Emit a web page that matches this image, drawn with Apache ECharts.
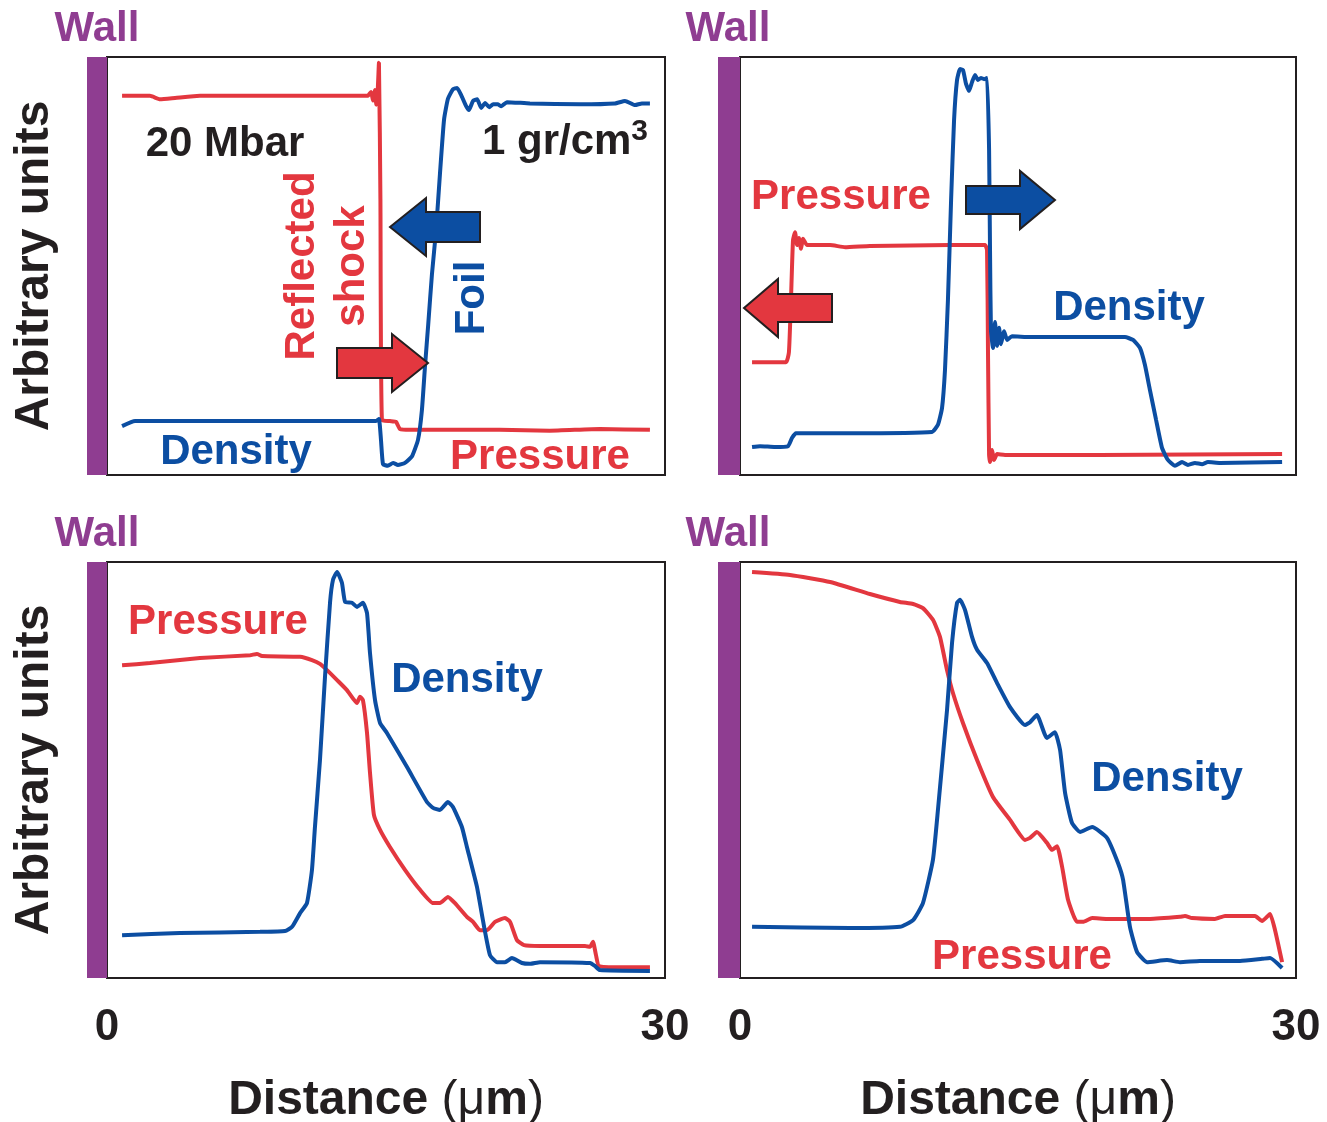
<!DOCTYPE html>
<html>
<head>
<meta charset="utf-8">
<script src="https://cdn.jsdelivr.net/npm/echarts@6/dist/echarts.min.js"></script>
<style>html,body{margin:0;padding:0;background:#fff;}#chart{width:1327px;height:1122px;}</style>
</head>
<body>
<div id="chart"></div>
<script>
// ---------- data (x in µm, y in arbitrary units 0-100) ----------
const xTickLabels = ['0', '30'];
const xRange = [0, 30];

const tlPressure = [[0.81,90.7],[2.31,90.7],[2.85,89.9],[3.66,90.2],[5.0,90.7],[10.38,90.7],[14.0,90.7],[14.2,91.6],[14.3,89.6],[14.4,92.1],[14.48,88.6],[14.55,91.5],[14.62,98.6],[14.7,66],[14.78,13.2],[15.21,12.9],[15.54,12.7],[15.75,11.0],[16.29,10.8],[21.1,10.8],[23.8,10.6],[26.5,11.0],[29.19,10.8]];
const tlDensity = [[0.81,11.7],[1.51,12.9],[5.0,12.9],[10.4,12.9],[14.46,12.9],[14.62,13.4],[14.73,8.4],[14.84,2.6],[15.1,2.2],[15.38,2.9],[15.64,2.4],[16.02,2.9],[16.4,4.5],[16.72,8.4],[16.93,15.5],[17.1,26.2],[17.27,36.0],[17.47,48.0],[17.69,58.5],[17.9,72.0],[18.12,85.0],[18.33,90.0],[18.6,92.3],[18.82,92.6],[19.03,91.0],[19.3,88.3],[19.46,87.3],[19.68,89.5],[19.9,89.9],[20.12,87.8],[20.33,89.0],[20.55,88.0],[20.76,88.7],[21.0,88.7],[21.2,88.2],[21.5,89.2],[22.74,88.9],[25.43,88.7],[27.31,88.9],[27.85,89.5],[28.39,88.5],[28.76,88.9],[29.19,88.9]];

const trPressure = [[0.65,27.0],[2.48,27.0],[2.64,29.4],[2.75,41.9],[2.86,56.2],[2.97,58.1],[3.08,55.0],[3.18,56.7],[3.29,54.1],[3.40,56.5],[3.62,55.0],[4.86,55.0],[5.67,54.5],[7.01,54.8],[11.33,55.0],[13.22,55.0],[13.33,53.8],[13.38,29.9],[13.44,4.8],[13.49,3.1],[13.6,6.0],[13.71,3.6],[13.87,5.0],[14.3,4.8],[19.43,4.8],[29.25,5.0]];
const trDensity = [[0.65,6.7],[1.08,6.9],[1.89,6.7],[2.59,6.9],[2.81,8.9],[3.02,10.0],[5.94,10.0],[10.36,10.3],[10.68,12.0],[10.9,16.0],[11.06,25.1],[11.22,41.9],[11.39,65.8],[11.55,84.9],[11.71,94.5],[11.87,97.1],[12.03,96.9],[12.2,93.5],[12.36,91.9],[12.52,94.0],[12.68,95.7],[12.84,94.5],[13.0,95.0],[13.17,94.7],[13.33,95.0],[13.44,77.7],[13.49,53.8],[13.54,34.7],[13.65,30.4],[13.76,36.6],[13.87,30.9],[13.98,35.2],[14.08,31.3],[14.25,34.4],[14.41,32.3],[14.68,33.2],[15.65,33.0],[18.35,33.0],[20.77,33.0],[21.21,32.3],[21.58,30.4],[21.85,26.3],[22.12,20.3],[22.45,13.2],[22.77,6.5],[23.09,3.6],[23.47,2.2],[23.85,3.1],[24.17,2.4],[24.55,2.9],[24.93,2.6],[25.25,3.1],[25.9,2.9],[29.25,3.1]];

const blPressure = [[0.81,75.2],[2.31,75.7],[5.0,76.9],[7.69,77.6],[8.06,77.9],[8.33,77.4],[10.38,77.2],[11.02,76.4],[11.45,75.5],[11.83,74.0],[12.37,71.6],[12.9,69.2],[13.44,66.1],[13.6,67.6],[13.76,66.8],[13.98,58.9],[14.14,49.3],[14.35,39.2],[14.68,35.6],[15.21,31.5],[16.02,26.0],[16.83,21.2],[17.53,18.0],[17.9,18.0],[18.33,19.5],[18.71,18.0],[19.35,14.7],[19.68,13.5],[20.05,11.5],[20.43,11.5],[20.86,13.5],[21.4,14.4],[21.67,13.5],[22.04,9.1],[22.42,7.9],[23.28,7.7],[25.7,7.7],[25.97,7.5],[26.13,8.7],[26.29,5.5],[26.45,2.9],[27.58,2.6],[29.19,2.6]];
const blDensity = [[0.81,10.3],[3.92,10.8],[8.23,11.1],[9.57,11.3],[9.95,12.3],[10.38,15.6],[10.75,18.0],[11.02,26.0],[11.18,36.3],[11.45,52.4],[11.72,72.4],[11.99,90.2],[12.15,95.7],[12.37,97.6],[12.63,95.0],[12.8,90.4],[13.17,90.2],[13.44,89.2],[13.76,90.2],[13.98,87.7],[14.14,78.1],[14.41,66.8],[14.68,61.3],[15.05,58.9],[16.13,50.7],[17.2,42.3],[17.53,40.9],[17.9,40.4],[18.33,42.3],[18.6,41.1],[19.08,36.3],[19.35,31.5],[19.89,21.9],[20.21,13.9],[20.59,5.5],[20.97,3.8],[21.4,3.8],[21.77,4.8],[22.31,3.6],[22.74,3.4],[23.28,3.8],[25.97,3.6],[26.23,2.9],[26.5,1.9],[29.19,1.7]];

const brPressure = [[0.65,97.6],[2.7,96.9],[4.86,95.2],[7.01,92.3],[8.63,90.4],[9.34,89.9],[9.87,88.9],[10.41,86.1],[10.79,82.0],[11.17,74.0],[11.49,68.5],[12.03,61.3],[12.79,52.4],[13.65,43.5],[14.57,38.0],[15.38,33.2],[15.65,33.7],[16.02,35.1],[16.56,32.5],[16.83,30.8],[17.11,31.7],[17.38,26.7],[17.7,18.8],[18.18,13.5],[18.51,13.5],[19.0,14.4],[19.8,14.2],[22.12,14.2],[23.74,14.7],[24.01,14.9],[24.39,14.4],[25.63,14.2],[26.17,14.9],[27.79,14.9],[28.17,13.7],[28.6,15.4],[28.87,11.5],[29.25,3.8]];
const brDensity = [[0.65,12.3],[5.94,12.0],[8.63,12.3],[9.34,13.9],[9.87,18.0],[10.41,28.4],[10.68,40.4],[11.17,64.4],[11.44,80.5],[11.71,90.2],[11.87,90.9],[12.14,88.5],[12.52,82.0],[12.79,78.9],[13.33,75.7],[13.87,70.9],[14.57,65.1],[15.38,60.8],[15.65,61.5],[16.02,63.2],[16.56,57.7],[16.99,59.1],[17.27,54.8],[17.54,44.5],[17.91,37.3],[18.35,35.1],[19.0,36.3],[19.8,33.7],[20.4,27.6],[20.67,23.6],[21.04,12.3],[21.42,6.3],[21.96,3.8],[23.04,4.3],[23.74,3.8],[24.82,4.1],[26.98,4.1],[28.17,4.6],[28.6,4.8],[29.25,2.4]];

// ---------- styling / layout ----------
const RED = '#e3373f', BLUE = '#0c4ea2', PURPLE = '#8f3d91', INK = '#231f20';
const FONT = '"Liberation Sans", Arial, sans-serif';
const grids = [
  {left: 107, top: 57, width: 558, height: 418},
  {left: 740, top: 57, width: 556, height: 418},
  {left: 107, top: 562, width: 558, height: 416},
  {left: 740, top: 562, width: 556, height: 416}
];
const panels = [
  [tlPressure, tlDensity], [trPressure, trDensity],
  [blPressure, blDensity], [brPressure, brDensity]
];

const chart = echarts.init(document.getElementById('chart'), null, {renderer: 'canvas'});

const xAxes = grids.map((g, i) => ({
  gridIndex: i, type: 'value', min: xRange[0], max: xRange[1], interval: xRange[1] - xRange[0],
  axisLine: {show: false}, axisTick: {show: false}, splitLine: {show: false},
  axisLabel: {show: i >= 2, margin: 28, color: INK, fontSize: 44, fontWeight: 'bold', fontFamily: FONT,
    formatter: (v) => xTickLabels[v === xRange[0] ? 0 : 1]},
  name: i >= 2 ? '{b|Distance }{n|(μ}{b|m}{n|)}' : '',
  nameLocation: 'middle', nameGap: 99,
  nameTextStyle: {rich: {
    b: {fontSize: 48, fontWeight: 'bold', color: INK, fontFamily: FONT},
    n: {fontSize: 48, fontWeight: 'normal', color: INK, fontFamily: FONT}
  }}
}));
const yAxes = grids.map((g, i) => ({
  gridIndex: i, type: 'value', min: 0, max: 100,
  axisLine: {show: false}, axisTick: {show: false}, splitLine: {show: false}, axisLabel: {show: false},
  name: (i % 2 === 0) ? 'Arbitrary units' : '', nameLocation: 'middle', nameGap: 48,
  nameTextStyle: {fontSize: 48, fontWeight: 'bold', color: INK, fontFamily: FONT}
}));

const series = [];
panels.forEach((p, i) => {
  series.push({type: 'line', xAxisIndex: i, yAxisIndex: i, data: p[0], showSymbol: false, smooth: 0.15,
    lineStyle: {color: RED, width: 4}, z: 3, silent: true});
  series.push({type: 'line', xAxisIndex: i, yAxisIndex: i, data: p[1], showSymbol: false, smooth: 0.15,
    lineStyle: {color: BLUE, width: 4}, z: 4, silent: true});
});

// ---------- decorations ----------
function arrowPts(tipX, tipY, dir, len, headLen, headHalf, bodyHalf) {
  const s = dir === 'left' ? 1 : -1;
  const hb = tipX + s * headLen, end = tipX + s * len;
  return [[tipX, tipY], [hb, tipY - headHalf], [hb, tipY - bodyHalf], [end, tipY - bodyHalf],
          [end, tipY + bodyHalf], [hb, tipY + bodyHalf], [hb, tipY + headHalf]];
}
function arrow(pts, color) {
  return {type: 'polygon', z: 50, shape: {points: pts}, style: {fill: color, stroke: INK, lineWidth: 2}};
}
function txt(x, y, text, color, extra) {
  return {type: 'text', z: 60, x: x, y: y + 4,
    style: Object.assign({text: text, fill: color, font: 'bold 42px ' + FONT, align: 'center', verticalAlign: 'middle'}, extra || {})};
}
function vtxt(x, y, text, color) {
  return {type: 'text', z: 60, x: x, y: y, rotation: Math.PI / 2,
    style: {text: text, fill: color, font: 'bold 42px ' + FONT, align: 'center', verticalAlign: 'middle'}};
}

const graphics = [];
grids.forEach((g, i) => {
  const w = i % 2 === 0 ? 20 : 22;
  graphics.push({type: 'rect', z: 40, shape: {x: g.left - w, y: g.top, width: w, height: g.height}, style: {fill: PURPLE}});
  graphics.push(txt(g.left - w + 10, g.top - 32, 'Wall', PURPLE, {font: 'bold 42px ' + FONT}));
});
// top-left annotations
graphics.push(txt(225, 140, '20 Mbar', INK));
graphics.push({type: 'text', z: 60, x: 565, y: 140, style: {
  text: '{n|1 gr/cm}{s|3}', align: 'center', verticalAlign: 'middle',
  rich: {n: {font: 'bold 42px ' + FONT, fill: INK, lineHeight: 46, verticalAlign: 'bottom'},
         s: {font: 'bold 30px ' + FONT, fill: INK, lineHeight: 46, verticalAlign: 'top'}}}});
graphics.push(vtxt(302, 266, 'Reflected', RED));
graphics.push(vtxt(352, 266, 'shock', RED));
graphics.push(vtxt(472, 298, 'Foil', BLUE));
graphics.push(txt(236, 448, 'Density', BLUE));
graphics.push(txt(540, 453, 'Pressure', RED));
graphics.push(arrow(arrowPts(390, 227, 'left', 90, 36, 29, 15), BLUE));
graphics.push(arrow(arrowPts(428, 363, 'right', 91, 36, 29, 15), RED));
// top-right
graphics.push(txt(841, 193, 'Pressure', RED));
graphics.push(txt(1129, 304, 'Density', BLUE));
graphics.push(arrow(arrowPts(1055, 200, 'right', 89, 35, 29, 14), BLUE));
graphics.push(arrow(arrowPts(744, 308, 'left', 88, 34, 29, 14), RED));
// bottom-left
graphics.push(txt(218, 618, 'Pressure', RED));
graphics.push(txt(467, 676, 'Density', BLUE));
// bottom-right
graphics.push(txt(1167, 775, 'Density', BLUE));
graphics.push(txt(1022, 953, 'Pressure', RED));

chart.setOption({
  animation: false,
  backgroundColor: '#ffffff',
  grid: grids.map(g => Object.assign({show: true, borderColor: INK, borderWidth: 2, backgroundColor: 'transparent',
    outerBoundsMode: 'none', containLabel: false}, g)),
  xAxis: xAxes,
  yAxis: yAxes,
  series: series,
  graphic: graphics
});
</script>
</body>
</html>
